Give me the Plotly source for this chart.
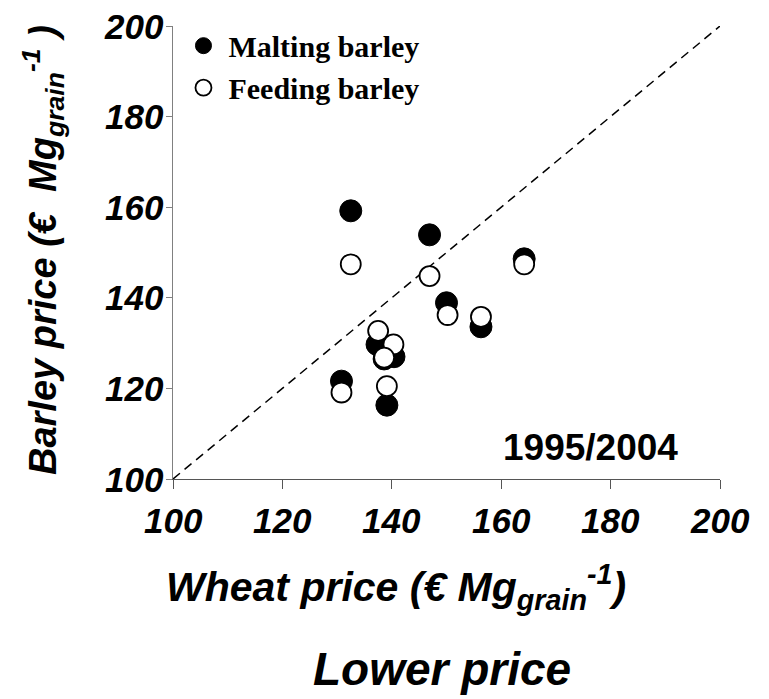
import plotly.graph_objects as go

# Wheat price (x) per year and barley prices (y), Lower price, 1995-2004
wheat_price = [132.5, 146.9, 164.2, 150.0, 156.3, 137.3, 140.4, 130.8, 139.1, 138.6]
malting_price = [159.2, 153.9, 148.6, 138.9, 133.6, 129.7, 127.0, 121.6, 116.3, 126.5]
feeding_price = [147.4, 144.8, 147.4, 136.2, 135.8, 132.7, 129.7, 119.1, 120.5, 126.8]
wheat_price_feed = [132.5, 146.9, 164.2, 150.2, 156.3, 137.5, 140.3, 130.8, 139.1, 138.6]

tick_vals = [100, 120, 140, 160, 180, 200]
tick_text = ["100", "120", "140", "160", "180", "200"]
diag = [100, 200]

SANS = "Liberation Sans"
SERIF = "Liberation Serif"

W, H = 769, 699
ML, MR, MT, MB = 173, 49, 26, 220
PW, PH = W - ML - MR, H - MT - MB

fig = go.Figure()

fig.add_trace(go.Scatter(
    x=diag, y=diag, mode="lines",
    line=dict(color="black", width=1.5, dash="9px,6px"),
    showlegend=False, hoverinfo="skip"))

fig.add_trace(go.Scatter(
    x=wheat_price, y=malting_price, mode="markers", name="Malting barley",
    marker=dict(symbol="circle", size=22, color="black",
                line=dict(color="black", width=1))))

fig.add_trace(go.Scatter(
    x=wheat_price_feed, y=feeding_price, mode="markers", name="Feeding barley",
    marker=dict(symbol="circle", size=20, color="white",
                line=dict(color="black", width=1.8))))

axis_common = dict(
    range=[100, 200], tickvals=tick_vals, showticklabels=False,
    showgrid=False, zeroline=False,
    showline=True, linewidth=1.2,
    ticks="outside", tickwidth=1.2,
)

fig.update_xaxes(**axis_common, ticklen=9, linecolor="#555555", tickcolor="#555555")
fig.update_yaxes(**axis_common, ticklen=6, linecolor="#808080", tickcolor="#808080")

tick_font = dict(family=SANS, size=35, color="black", weight="bold", style="italic")
# tick labels (italic bold) placed via the axis scales
for v, t in zip(tick_vals, tick_text):
    fig.add_annotation(text="<i>%s</i>" % t, x=v, xref="x", y=0, yref="paper",
                       xanchor="center", yanchor="middle", yshift=-41,
                       showarrow=False, font=tick_font)
    fig.add_annotation(text="<i>%s</i>" % t, x=0, xref="paper", y=v, yref="y",
                       xanchor="right", yanchor="middle", xshift=-7,
                       showarrow=False, font=tick_font)

annots = [
    dict(text="Wheat price (€ Mg<sub>grain</sub><sup>-1</sup>)",
         x=396, y=587, size=41, angle=0, style="italic"),
    dict(text="Barley price (€  Mg<sub>grain</sub><sup>-1</sup> )",
         x=43, y=250, size=38, angle=-90, style="italic"),
    dict(text="Lower price",
         x=442, y=669, size=46, angle=0, style="italic"),
    dict(text="1995/2004",
         x=590, y=447, size=37, angle=0, style="normal"),
]
for a in annots:
    fig.add_annotation(
        text=a["text"], x=(a["x"] - ML) / PW, y=(H - MB - a["y"]) / PH,
        xref="paper", yref="paper",
        xanchor="center", yanchor="middle", showarrow=False, textangle=a["angle"],
        font=dict(family=SANS, size=a["size"], color="black",
                  weight="bold", style=a["style"]))

fig.update_layout(
    width=W, height=H,
    margin=dict(l=ML, r=MR, t=MT, b=MB),
    paper_bgcolor="white", plot_bgcolor="white",
    showlegend=True,
    legend=dict(x=0.01, y=1.014, xanchor="left", yanchor="top",
                bgcolor="rgba(0,0,0,0)", itemsizing="trace", itemwidth=40,
                font=dict(family=SERIF, size=30, color="black", weight="bold"),
                tracegroupgap=0, traceorder="normal"),
)

fig.write_html("out.html")
